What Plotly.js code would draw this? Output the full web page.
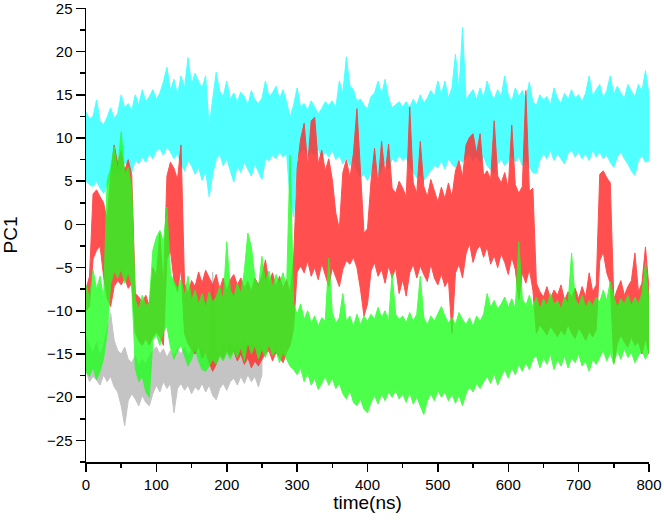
<!DOCTYPE html>
<html>
<head>
<meta charset="utf-8">
<script src="https://cdn.plot.ly/plotly-3.0.1.min.js"></script>
<style>
  html, body { margin: 0; padding: 0; background: #fff; }
  #chart { width: 664px; height: 527px; }
</style>
</head>
<body>
<div id="chart"></div>
<script>
// sampling step of the envelopes, ns
const step = 5;

// cyan run, upper and lower envelope every 5 ns (0..800)
const cyanUpper = [
  13, 12.2, 12.5, 14.4, 12, 11.5, 12.4, 13.5, 12.3, 12.8,
  15, 13.5, 14, 13.2, 15, 13.8, 15.6, 14.2, 14.8, 15.6,
  14.5, 15.2, 16.5, 18.2, 15.5, 16.8, 15, 17.2, 15.8, 19.3,
  16.2, 17.5, 16.5, 15.8, 17.2, 11.3, 14.5, 17.6, 15.4, 14.8,
  16.6, 14.5, 15.2, 14.2, 15.3, 14.8, 13.8, 15.5, 14.4, 14,
  14.6, 16.6, 14.8, 15.2, 16, 14.5, 15.6, 14.2, 12.4, 13.8,
  15.8, 13.6, 14, 13.2, 14.3, 13.5, 12.8, 13.4, 14.2, 13.8,
  14.3, 13.5, 16.6, 15.2, 19.4, 16, 15.6, 14.2, 14.5, 13.8,
  13.4, 14.8, 15.2, 16.6, 15, 16.8, 14.6, 13.5, 13.8, 14.2,
  13.6, 14.2, 13.5, 14.5, 13.8, 15, 14, 14.6, 15.5, 14.8,
  16.6, 15, 16.6, 14.6, 15.8, 19.7, 15.5, 22.8, 14.5, 15,
  15.6, 14.4, 15.8, 14.6, 16.6, 15.2, 14.5, 15.6, 14.8, 17.2,
  15, 14.2, 15.8, 14.8, 15.5, 14.5, 16.5, 14.2, 13.8, 15,
  14.4, 14.8, 13.8, 15.8, 14.6, 14, 15.2, 14.4, 15.6, 14.6,
  15, 14.2, 15.2, 17.2, 14.8, 15.6, 16.2, 14.6, 15.5, 17.2,
  15, 16, 15.2, 14.6, 16.2, 15.4, 14.8, 16.2, 15.4, 17.8,
  15
];
const cyanLower = [
  5, 4.6, 4.4, 5, 4.2, 3.6, 4.5, 5.5, 6, 5.4,
  6.4, 7.2, 6.8, 6, 7.5, 7, 7.8, 7.2, 8.2, 7.6,
  8.5, 8.8, 8, 9, 8.4, 7.6, 8.2, 7, 6.2, 7.4,
  6.8, 5.8, 6.6, 5.1, 6.2, 3.2, 5.8, 7.5, 8.2, 6.8,
  7.6, 6.4, 4.9, 6.8, 6, 7.2, 6.4, 5.6, 7, 6.2,
  5.2, 7.6, 7.4, 8, 7.6, 8.4, 7.8, 8.2, 3, 0.9,
  7.6, 8.4, 8.8, 7.8, 8.6, 8, 8.8, 7.6, 8.4, 7.8,
  8.6, 7.5, 8, 7, 7.8, 6.8, 7.4, 6.2, 5.4, 5.8,
  5.1, 6, 6.6, 5.6, 6.4, 7.2, 6.4, 7.6, 7.2, 8,
  7.4, 7.8, 6.8, 6, 5.4, 5.8, 5.1, 5.6, 6.2, 6.8,
  6.6, 7.4, 6.4, 7.6, 7, 6.6, 7.6, 7.2, 7.8, 8.2,
  7.4, 8, 7.2, 7.8, 6.8, 6.4, 5.9, 7, 7.6, 6.8,
  7.4, 8, 7.2, 7.8, 6.8, 7.4, 6.6, 6, 5.9, 7.4,
  8.2, 7.6, 8.6, 7.4, 8.2, 7.6, 7, 8.2, 8.6, 7.8,
  8.4, 7.6, 8.2, 7.4, 8.6, 7.8, 8.4, 7.6, 8, 7.2,
  6.6, 7.8, 8.4, 7.6, 7, 6.2, 5.7, 7.4, 8, 7.2,
  7.4
];

// red run
const redUpper = [
  -7.5, -6, 3.5, 4, 3.2, 2.5, 0.5, 5.5, 9.2, 7,
  8.5, 6.2, 7.5, 5.7, -8, -8.4, -9, -8.2, -9.5, -5,
  -6, -1, -7.5, 5.6, 7.2, 6.5, 5.2, 9.2, -6.8, -8,
  -6.5, -7.2, -5.5, -6.8, -5.3, -6.2, -7, -5.8, -7.5, -6.2,
  -7.8, -6.4, -5.8, -7, -6.2, -7.4, -6.6, -7.8, -6.2, -7,
  -6, -4.1, -6.8, -5.6, -7.2, -6, -7.4, -6.4, -8, -4,
  6.5, 9.9, 11.7, 6.8, 12, 12.4, 7, 8.6, 6.2, 7.6,
  5.2, 1.3, -0.5, 6, 7.5, 5.4, 8.2, 13.4, 6, -1,
  -0.5, 5, 8.8, 4.6, 9.6, 5.8, 9.3, 4.2, 3.6, 5,
  4.2, 3.2, 13.6, 4.8, 3.6, 9.6, 4.4, 3.2, 5.2, 3.8,
  2.6, 4.3, 3, 4.8, 3.2, 6.2, 7.4, 5.5, 9.2, 10.1,
  10.5, 8.2, 10.5, 5.6, 6.2, 5.2, 12, 5.6, 4.8, 6,
  4.2, 11.5, 4.6, 3.6, 4.4, 15.5, 3.8, 4.2, -6.8, -7.8,
  -8.4, -7.2, -8.6, -7.6, -8.2, -7, -8.8, -7.8, -8.4, -7.4,
  -8.6, -7.2, -8.4, -5.6, -7.8, -7, 5.8, 6.2, 5.4, 4.8,
  -8.7, -7.5, -6.5, -8.2, -7.2, -6.5, -3.3, -7.8, -6.8, -2.6,
  -7.5
];
const redLower = [
  -10, -9.5, -4, -3, -2.5, -6, -8.5, -9.5, -7.2, -6.5,
  -7, -6.2, -7.4, -6.8, -12.5, -13.5, -14, -13.2, -14, -13,
  -12.5, -13, -14, -4, -3, -6.5, -7.8, -5, -12.6, -13.8,
  -14.5, -15, -14.2, -15.5, -14.8, -16, -17, -16.2, -15, -15.6,
  -14.5, -15.2, -14.6, -15.8, -15, -16.2, -15.4, -16.6, -15.8, -16.4,
  -15.6, -15, -14.6, -15.8, -14.8, -15.4, -16, -14.8, -14, -12,
  -5.5, -4.8, -5.6, -4.2, -6, -5, -6.4, -4.5, -5.8, -7.2,
  -5, -6.2, -7.2, -5.2, -4.2, -4.6, -3.8, -5, -7.5, -10.6,
  -9.2, -5.4, -4.4, -6, -5.2, -6.8, -4.8, -6.2, -5, -8,
  -6.4, -8.3, -5.6, -4.6, -6.2, -4.8, -5.8, -6.6, -4.6, -6.2,
  -7, -5.7, -7.2, -6.4, -12.6, -5.6, -4.6, -6.2, -3.4, -2.2,
  -4.4, -3, -2.4, -3.8, -2.6, -4.6, -3.6, -5, -3.4, -4.4,
  -5.8, -3.8, -5.2, -8.7, -5.6, -6.8, -5.2, -7.6, -12.6, -11.6,
  -12.2, -12.8, -11.8, -12.4, -13, -12.2, -12.8, -11.6, -12.6, -13.2,
  -12, -12.6, -13.4, -12.4, -13, -12.2, -4.2, -3.2, -5.6, -6.8,
  -16, -13.8, -12.8, -13.6, -14.2, -13, -14, -13.6, -15, -13.2,
  -15
];

// green run
const greenUpper = [
  -7, -8.5, -5.3, -7.5, -6, -8.6, 5, 6.5, 9, 6.2,
  10.7, 5.8, 6.6, 4.2, -8.7, -9.8, -8.2, -9.4, -9, -3,
  -1.5, -0.7, -2, 2, -5.8, -6.6, -7.4, -6.4, -8.2, -6,
  -8.8, -7.6, -9.2, -8, -9.6, -7.8, -9, -8.4, -7.2, -8.8,
  -2, -7.6, -8.4, -6.8, -8, -5.4, -1, -2.6, -6.2, -7.4,
  -3.7, -6.6, -5.4, -7.2, -5.8, -6.8, -5.6, -7.4, 8, -9.2,
  -10.4, -9.2, -11, -10, -11.4, -10.6, -11.8, -10.8, -11.2, -3.9,
  -10.2, -11.4, -10.8, -8, -11.2, -10.6, -11.8, -10.4, -11.6, -10.6,
  -11.2, -10.4, -11, -9.6, -10.8, -10, -11.2, -5.7, -10.4, -11,
  -10.6, -11.4, -10.2, -11.2, -10.4, -6, -10.8, -11.6, -10.6, -11.2,
  -10.4, -9.5, -10.6, -11.4, -10.8, -11.6, -10.2, -11, -11.6, -10.8,
  -11.8, -10.6, -11.2, -10.4, -8, -9.6, -8.8, -9.8, -9.2, -8.4,
  -9.6, -8.6, -9.8, -2, -8.6, -9.4, -8.2, -9.6, -8.4, -9.8,
  -8.6, -9.4, -8, -9.2, -8.8, -9.8, -8.4, -9.2, -3.3, -8.6,
  -9.4, -8.2, -9.6, -8.8, -9.4, -8.4, -9, -7.6, -8.8, -6.6,
  -8.4, -9.6, -8.6, -9.2, -8.2, -9.4, -8.4, -9.2, -8, -4.5,
  -9
];
const greenLower = [
  -17, -17.6, -16.5, -18, -17, -15.5, -12.6, -7, -5.4, -6.2,
  -5.2, -6.8, -5.6, -7, -16.6, -18.2, -17.6, -19.4, -20, -13.4,
  -12.8, -14, -12.4, -11.8, -14.2, -15.6, -14.6, -14, -15.2, -16.4,
  -15.6, -14.4, -15.8, -16.8, -17, -16.4, -15.6, -16.2, -15.2, -15.8,
  -14.8, -15.6, -14.6, -15.4, -14.2, -15.8, -13.6, -15, -14, -15.6,
  -14.4, -15.4, -13.8, -15.2, -14.6, -16, -14.8, -15.6, -16.4, -16.8,
  -17.4, -16.6, -18.2, -17.2, -18.6, -17.8, -19.1, -18.4, -17.6, -18.6,
  -17.8, -19, -18.4, -19.6, -20.2, -19.2, -20.6, -21, -20.2, -21.4,
  -21.8, -20.6, -19.8, -20.8, -19.6, -20.4, -19.4, -20, -19.2, -20.2,
  -19.6, -20.6, -19.4, -20.8, -20, -21, -22, -20.4, -19.6, -20.4,
  -19.2, -20, -19.4, -20.4, -19.6, -20.7, -19.8, -21, -19.6, -18.8,
  -19.4, -18.4, -19, -18.2, -17.6, -18.4, -17.2, -18.6, -17.6, -16.8,
  -17.8, -16.6, -17.4, -16.2, -17, -16, -16.8, -15.6, -15.2, -16.6,
  -15.4, -16.2, -15, -16.8, -15.6, -16.4, -15.2, -16.6, -15.4, -16,
  -15, -16.4, -15.8, -17, -15.6, -16.2, -15.4, -14.6, -15.8, -14.8,
  -16.2, -14.6, -15.6, -14.4, -15.4, -14.8, -16, -15.2, -14.6, -15.6,
  -14.6
];

// grey run, 0..250 ns only
const greyUpper = [
  -13, -14, -15, -13.6, -15.2, -14, -12, -10.3, -13.4, -14.6,
  -15, -14.2, -15.6, -16, -15.2, -16.4, -15.6, -16.2, -15.2, -14.6,
  -14.2, -15, -14.4, -15.4, -14.6, -15.2, -14.4, -15, -14.2, -15.2,
  -14.6, -14, -15, -14.2, -15.4, -14.8, -5.5, -14.6, -15, -13.8,
  -14.6, -13.6, -14.4, -13.8, -14.8, -13.4, -14.2, -13.6, -14.4, -13.8,
  -14.6
];
const greyLower = [
  -17, -18.2, -17.6, -18, -18.6, -17.4, -18.2, -17.6, -18.8, -19.4,
  -21, -23.3, -20.4, -19.6, -20.2, -21, -19.8, -20.6, -21, -19.6,
  -18.6, -19.4, -18.2, -19, -18.4, -21.8, -19, -18.4, -19.2, -18.6,
  -19.6, -18.8, -19.2, -18.4, -19.4, -18.6, -19.8, -20.3, -19, -18.4,
  -19.2, -18.2, -17.8, -18.6, -17.6, -18.4, -17.4, -18.2, -17.6, -18.8,
  -17.4
];

function band(upper, lower, color, opacity) {
  const t = upper.map((_, i) => i * step);
  return {
    x: t.concat(t.slice().reverse()),
    y: upper.concat(lower.slice().reverse()),
    type: 'scatter',
    mode: 'lines',
    fill: 'toself',
    fillcolor: color,
    line: { color: color, width: 1 },
    opacity: opacity,
    hoverinfo: 'skip',
    showlegend: false
  };
}

const data = [
  band(greyUpper, greyLower, '#c4c4c4', 1),
  band(cyanUpper, cyanLower, '#50ffff', 1),
  band(redUpper, redLower, '#ff3131', 0.85),
  band(greenUpper, greenLower, '#1fff1f', 0.8)
];

const layout = {
  width: 664,
  height: 527,
  margin: { l: 85.5, r: 14.5, t: 8, b: 65 },
  paper_bgcolor: '#fff',
  plot_bgcolor: '#fff',
  font: { family: 'Liberation Sans, Arial, sans-serif', color: '#000', size: 15 },
  xaxis: {
    range: [0, 800],
    tick0: 0,
    dtick: 100,
    ticks: 'outside',
    ticklen: 8,
    tickwidth: 1.5,
    tickcolor: '#000',
    minor: { dtick: 50, ticks: 'outside', ticklen: 4, tickwidth: 1.5, tickcolor: '#000' },
    showline: true,
    linecolor: '#000',
    linewidth: 1.5,
    showgrid: false,
    zeroline: false,
    ticklabeloverflow: 'allow',
    title: { text: 'time(ns)', font: { size: 19 }, standoff: 4 }
  },
  yaxis: {
    range: [-27.5, 25.05],
    tick0: 0,
    dtick: 5,
    ticks: 'outside',
    ticklen: 9,
    tickwidth: 1.5,
    tickcolor: '#000',
    minor: { dtick: 2.5, ticks: 'outside', ticklen: 5, tickwidth: 1.5, tickcolor: '#000' },
    showline: true,
    linecolor: '#000',
    linewidth: 1.5,
    showgrid: false,
    zeroline: false,
    ticklabeloverflow: 'allow',
    title: { text: 'PC1', font: { size: 19 }, standoff: 24 }
  }
};

Plotly.newPlot('chart', data, layout, { staticPlot: true });
</script>
</body>
</html>
